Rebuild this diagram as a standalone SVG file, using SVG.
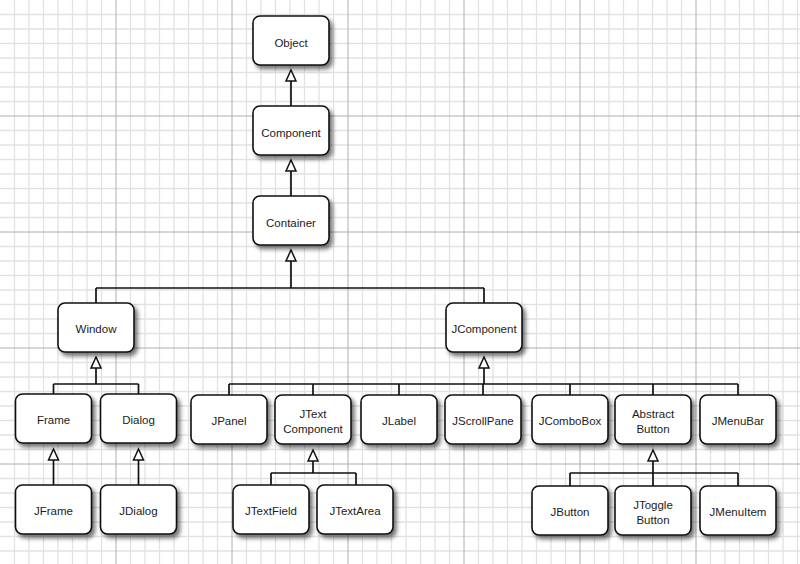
<svg xmlns="http://www.w3.org/2000/svg" width="800" height="564" viewBox="0 0 800 564">
<defs>
<filter id="sh" x="-20%" y="-20%" width="150%" height="160%">
<feDropShadow dx="3" dy="3.5" stdDeviation="2.2" flood-color="#000" flood-opacity="0.55"/>
</filter>
</defs>
<style>
.minor{stroke:#e2e2e2;stroke-width:1.3;fill:none}
.major{stroke:#aeaeae;stroke-width:1;fill:none}
.box{fill:#fff;stroke:#111;stroke-width:1.6;filter:url(#sh)}
.lbl{font-family:"Liberation Sans",Arial,Helvetica,sans-serif;font-size:11.5px;fill:#1c1c1c;text-anchor:middle}
.ln{stroke:#111;stroke-width:1.7;fill:none}
.tri{fill:#fff;stroke:#111;stroke-width:1.5;stroke-linejoin:miter}
</style>
<rect width="800" height="564" fill="#fff"/>
<g id="grid">
<path class="minor" d="M14.5 0V564M29 0V564M43.5 0V564M58 0V564M72.5 0V564M87 0V564M101.5 0V564M130.5 0V564M145 0V564M159.5 0V564M174 0V564M188.5 0V564M203 0V564M217.5 0V564M246.5 0V564M261 0V564M275.5 0V564M290 0V564M304.5 0V564M319 0V564M333.5 0V564M362.5 0V564M377 0V564M391.5 0V564M406 0V564M420.5 0V564M435 0V564M449.5 0V564M478.5 0V564M493 0V564M507.5 0V564M522 0V564M536.5 0V564M551 0V564M565.5 0V564M594.5 0V564M609 0V564M623.5 0V564M638 0V564M652.5 0V564M667 0V564M681.5 0V564M710.5 0V564M725 0V564M739.5 0V564M754 0V564M768.5 0V564M783 0V564M797.5 0V564
M0 14.5H800M0 29H800M0 43.5H800M0 58H800M0 72.5H800M0 87H800M0 101.5H800M0 130.5H800M0 145H800M0 159.5H800M0 174H800M0 188.5H800M0 203H800M0 217.5H800M0 246.5H800M0 261H800M0 275.5H800M0 290H800M0 304.5H800M0 319H800M0 333.5H800M0 362.5H800M0 377H800M0 391.5H800M0 406H800M0 420.5H800M0 435H800M0 449.5H800M0 478.5H800M0 493H800M0 507.5H800M0 522H800M0 536.5H800M0 551H800"/>
<path class="major" d="M116 0V564M232 0V564M348 0V564M464 0V564M580 0V564M696 0V564M0 116H800M0 232H800M0 348H800M0 464H800"/>
</g>
<g id="connectors">
<path class="ln" d="M291 106V81M291 196V171M291 261V288M96 288H484M96 288V303M484 288V303"/>
<path class="ln" d="M96 368V384M53.5 384H138.5M53.5 384V394M138.5 384V394"/>
<path class="ln" d="M484 368V384M229 384H738M229 384V395M313 384V395M399 384V395M483 384V395M570 384V395M653 384V395M738 384V395"/>
<path class="ln" d="M53.5 460V485M138.5 460V485"/>
<path class="ln" d="M313 461V473M271 473H356M271 473V485M356 473V485"/>
<path class="ln" d="M653 461V486M570 473H738M570 473V486M738 473V486"/>
<path class="tri" d="M291 70L296 81H286Z"/>
<path class="tri" d="M291 160L296 171H286Z"/>
<path class="tri" d="M291 250L296 261H286Z"/>
<path class="tri" d="M96 357L101 368H91Z"/>
<path class="tri" d="M484 357L489 368H479Z"/>
<path class="tri" d="M53.5 449L58.5 460H48.5Z"/>
<path class="tri" d="M138.5 449L143.5 460H133.5Z"/>
<path class="tri" d="M313 450L318 461H308Z"/>
<path class="tri" d="M653 450L658 461H648Z"/>
</g>
<g id="Object"><rect class="box" x="253" y="16" width="76" height="49" rx="7"/><text class="lbl" x="291" y="46.5">Object</text></g>
<g id="Component"><rect class="box" x="253" y="106" width="76" height="49" rx="7"/><text class="lbl" x="291" y="136.5">Component</text></g>
<g id="Container"><rect class="box" x="253" y="196" width="76" height="49" rx="7"/><text class="lbl" x="291" y="226.5">Container</text></g>
<g id="Window"><rect class="box" x="58" y="303" width="76" height="49" rx="7"/><text class="lbl" x="96" y="333">Window</text></g>
<g id="JComponent"><rect class="box" x="446" y="303" width="76" height="49" rx="7"/><text class="lbl" x="484" y="333">JComponent</text></g>
<g id="Frame"><rect class="box" x="15.5" y="394" width="76" height="49" rx="7"/><text class="lbl" x="53.5" y="424">Frame</text></g>
<g id="Dialog"><rect class="box" x="100.5" y="394" width="76" height="49" rx="7"/><text class="lbl" x="138.5" y="424">Dialog</text></g>
<g id="JPanel"><rect class="box" x="191" y="395" width="76" height="49" rx="7"/><text class="lbl" x="229" y="425">JPanel</text></g>
<g id="JTextComponent"><rect class="box" x="275" y="395" width="76" height="49" rx="7"/><text class="lbl" x="313" y="418">JText</text><text class="lbl" x="313" y="432.5">Component</text></g>
<g id="JLabel"><rect class="box" x="361" y="395" width="76" height="49" rx="7"/><text class="lbl" x="399" y="425">JLabel</text></g>
<g id="JScrollPane"><rect class="box" x="445" y="395" width="76" height="49" rx="7"/><text class="lbl" x="483" y="425">JScrollPane</text></g>
<g id="JComboBox"><rect class="box" x="532" y="395" width="76" height="49" rx="7"/><text class="lbl" x="570" y="425">JComboBox</text></g>
<g id="AbstractButton"><rect class="box" x="615" y="395" width="76" height="49" rx="7"/><text class="lbl" x="653" y="418">Abstract</text><text class="lbl" x="653" y="432.5">Button</text></g>
<g id="JMenuBar"><rect class="box" x="700" y="395" width="76" height="49" rx="7"/><text class="lbl" x="738" y="425">JMenuBar</text></g>
<g id="JFrame"><rect class="box" x="15.5" y="485" width="76" height="49" rx="7"/><text class="lbl" x="53.5" y="515">JFrame</text></g>
<g id="JDialog"><rect class="box" x="100.5" y="485" width="76" height="49" rx="7"/><text class="lbl" x="138.5" y="515">JDialog</text></g>
<g id="JTextField"><rect class="box" x="233" y="485" width="76" height="49" rx="7"/><text class="lbl" x="271" y="515">JTextField</text></g>
<g id="JTextArea"><rect class="box" x="317" y="485" width="76" height="49" rx="7"/><text class="lbl" x="355" y="515">JTextArea</text></g>
<g id="JButton"><rect class="box" x="532" y="486" width="76" height="49" rx="7"/><text class="lbl" x="570" y="516">JButton</text></g>
<g id="JToggleButton"><rect class="box" x="615" y="486" width="76" height="49" rx="7"/><text class="lbl" x="653" y="509">JToggle</text><text class="lbl" x="653" y="523.5">Button</text></g>
<g id="JMenuItem"><rect class="box" x="700" y="486" width="76" height="49" rx="7"/><text class="lbl" x="738" y="516">JMenuItem</text></g>
</svg>
